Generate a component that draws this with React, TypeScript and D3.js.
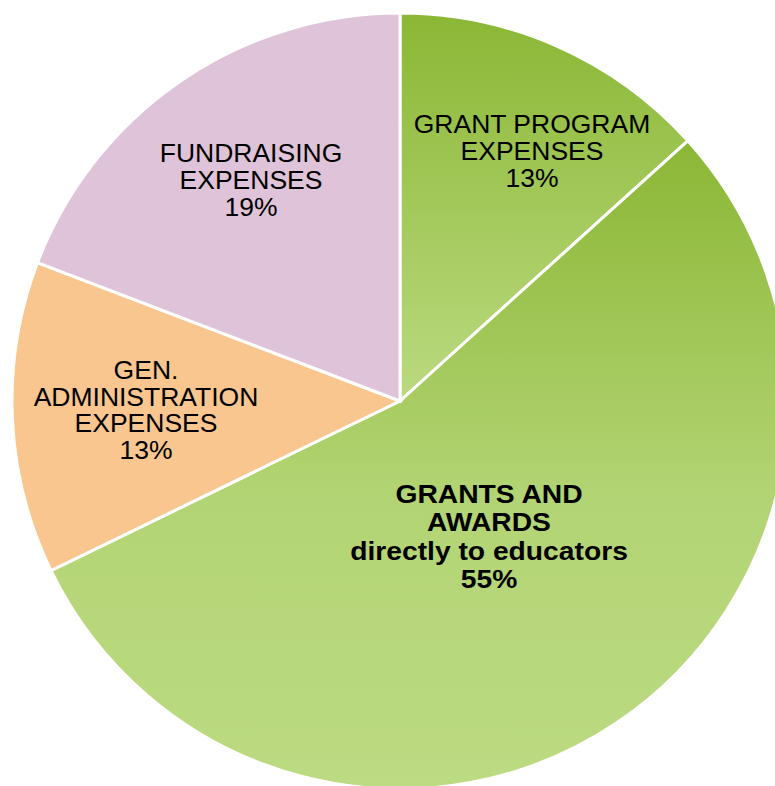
import React from "react";
import * as d3 from "d3";

const categories = [
  "GRANT PROGRAM EXPENSES",
  "GRANTS AND AWARDS directly to educators",
  "GEN. ADMINISTRATION EXPENSES",
  "FUNDRAISING EXPENSES",
];
// slice sizes (labels show rounded percentages)
const values = [13.3, 54.5, 13.0, 19.2];
const labelLines = [
  ["GRANT PROGRAM", "EXPENSES", "13%"],
  ["GRANTS AND", "AWARDS", "directly to educators", "55%"],
  ["GEN.", "ADMINISTRATION", "EXPENSES", "13%"],
  ["FUNDRAISING", "EXPENSES", "19%"],
];
const boldLabel = [false, true, false, false];

const W = 775;
const H = 786;
const cx = 400;
const cy = 401;
const R = 388;

// label anchor positions (first line baseline, x center)
const labelPos: [number, number][] = [
  [532, 133],
  [489, 503],
  [146, 379],
  [251, 162],
];
const lineHeights = [27, 28.3, 26.7, 27];

const fills = ["url(#gGreen1)", "url(#gGreen2)", "#f9c690", "#dfc3d8"];

export default function App() {
  const pie = d3
    .pie<number>()
    .sort(null)
    .value((d) => d)(values);
  const arc = d3.arc<d3.PieArcDatum<number>>().innerRadius(0).outerRadius(R);

  return (
    <svg
      width={W}
      height={H}
      style={{ position: "absolute", left: 0, top: 0, display: "block", background: "#fff" }}
    >
      <defs>
        <linearGradient id="gGreen1" x1="0" y1="0" x2="0" y2="1">
          <stop offset="0" stopColor="#8bb735" />
          <stop offset="1" stopColor="#bbda80" />
        </linearGradient>
        <linearGradient id="gGreen2" x1="0" y1="0" x2="0" y2="1">
          <stop offset="0" stopColor="#8bb735" />
          <stop offset="0.55" stopColor="#b3d474" />
          <stop offset="1" stopColor="#bcdb82" />
        </linearGradient>
      </defs>
      <g transform={`translate(${cx},${cy})`}>
        {pie.map((p, i) => (
          <path
            key={categories[i]}
            d={arc(p) || ""}
            fill={fills[i]}
            stroke="#ffffff"
            strokeWidth={3}
            strokeLinejoin="miter"
          />
        ))}
      </g>
      {labelLines.map((lines, i) => (
        <text
          key={"l" + i}
          textAnchor="middle"
          fontFamily="'Liberation Sans', Arial, Helvetica, sans-serif"
          fontSize={25}
          fontWeight={boldLabel[i] ? "bold" : "normal"}
          fill="#000"
          transform={`translate(${labelPos[i][0]},${labelPos[i][1]}) scale(${boldLabel[i] ? 1.13 : 1.06},1)`}
        >
          {lines.map((ln, j) => (
            <tspan key={j} x={0} y={j * lineHeights[i]}>
              {ln}
            </tspan>
          ))}
        </text>
      ))}
    </svg>
  );
}
